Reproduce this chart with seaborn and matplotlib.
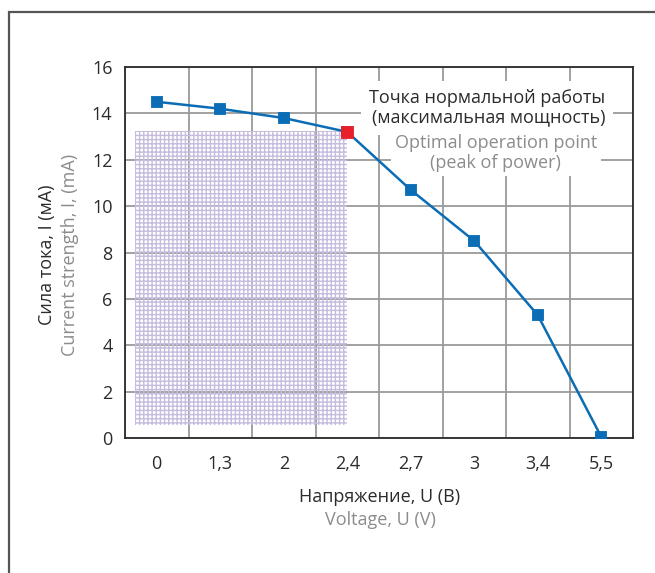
import matplotlib
matplotlib.use("Agg")
import matplotlib.pyplot as plt
from matplotlib.patches import Rectangle
import numpy as np
import pandas as pd
import seaborn as sns

# Data
voltage = ["0", "1,3", "2", "2,4", "2,7", "3", "3,4", "5,5"]
current = [14.5, 14.2, 13.8, 13.2, 10.7, 8.5, 5.3, 0.05]
peak_index = 3
y_ticks = [0, 2, 4, 6, 8, 10, 12, 14, 16]

df = pd.DataFrame({"voltage": voltage, "current": current})
peak = df.iloc[[peak_index]]

blue = "#0a6db5"
red = "#e8202a"
grey_text = "#8c8c8c"
dark = "#2b2b2b"
fs = 13

sns.set_style("white")
plt.rcParams["font.family"] = ["Open Sans", "DejaVu Sans"]

fig = plt.figure(figsize=(6.55, 5.73), dpi=100)
ax = fig.add_axes([125 / 655, 1 - 438 / 573, 508 / 655, 371 / 573])

# outer frame (left and top visible, runs off the image)
fig.patches.append(Rectangle((9 / 655, -0.05), 1.2, 1 - 12 / 573 + 0.05,
                             transform=fig.transFigure, fill=False,
                             edgecolor="#555555", linewidth=1.6))

# hatched area below the optimal point
ax.add_patch(Rectangle((-0.34, 0.55), 3.34, 12.7, facecolor="none",
                       edgecolor="#c6bcdd", linewidth=0, hatch="++++",
                       zorder=1))

sns.pointplot(data=df, x="voltage", y="current", order=voltage, color=blue,
              marker="s", markersize=7.5, linewidth=1.8, ax=ax, zorder=5)
sns.pointplot(data=peak, x="voltage", y="current", order=voltage, color=red,
              marker="s", markersize=7.5, linestyle="none", ax=ax, zorder=6)

ax.set_xlim(-0.5, len(voltage) - 0.5)
ax.set_ylim(0, 16)
ax.set_yticks(y_ticks)
ax.set_xticks(range(len(voltage)))
ax.set_xticklabels(voltage)
ax.set_xticks(np.arange(-0.5, len(voltage), 1), minor=True)

ax.tick_params(axis="x", which="major", length=0, pad=12, labelsize=fs,
               labelcolor=dark)
ax.tick_params(axis="x", which="minor", direction="inout", length=10,
               width=1.2, color=dark)
ax.tick_params(axis="y", which="major", direction="inout", length=10,
               width=1.2, color=dark, pad=4, labelsize=fs, labelcolor=dark)

ax.grid(False)
ax.xaxis.grid(True, which="minor", color="#9a9a9a", linewidth=1.3)
ax.yaxis.grid(True, which="major", color="#9a9a9a", linewidth=1.3)
ax.set_axisbelow(True)
for s in ax.spines.values():
    s.set_color(dark)
    s.set_linewidth(1.3)

ax.set_xlabel("")
ax.set_ylabel("")

# annotation for the operating point
ax.text(0.945, 0.94, "Точка нормальной работы\n(максимальная мощность)",
        transform=ax.transAxes, ha="right", va="top", fontsize=fs,
        color=dark, linespacing=1.1, zorder=3,
        bbox=dict(facecolor="white", edgecolor="none", pad=6))
ax.text(0.73, 0.82, "Optimal operation point\n(peak of power)",
        transform=ax.transAxes, ha="center", va="top", fontsize=fs,
        color=grey_text, linespacing=1.15, zorder=3, multialignment="center",
        bbox=dict(facecolor="white", edgecolor="none", pad=3))

# axis titles (Russian + English)
fig.text(380 / 655, 1 - 497 / 573, "Напряжение, U (В)", ha="center",
         va="center", fontsize=fs, color=dark)
fig.text(380 / 655, 1 - 520 / 573, "Voltage, U (V)", ha="center",
         va="center", fontsize=fs, color=grey_text)
fig.text(47 / 655, 1 - 255 / 573, "Сила тока, I (мА)", ha="center",
         va="center", rotation=90, fontsize=fs, color=dark)
fig.text(70 / 655, 1 - 255 / 573, "Current strength, I, (mA)", ha="center",
         va="center", rotation=90, fontsize=fs, color=grey_text)

fig.savefig("out.png", dpi=100)
